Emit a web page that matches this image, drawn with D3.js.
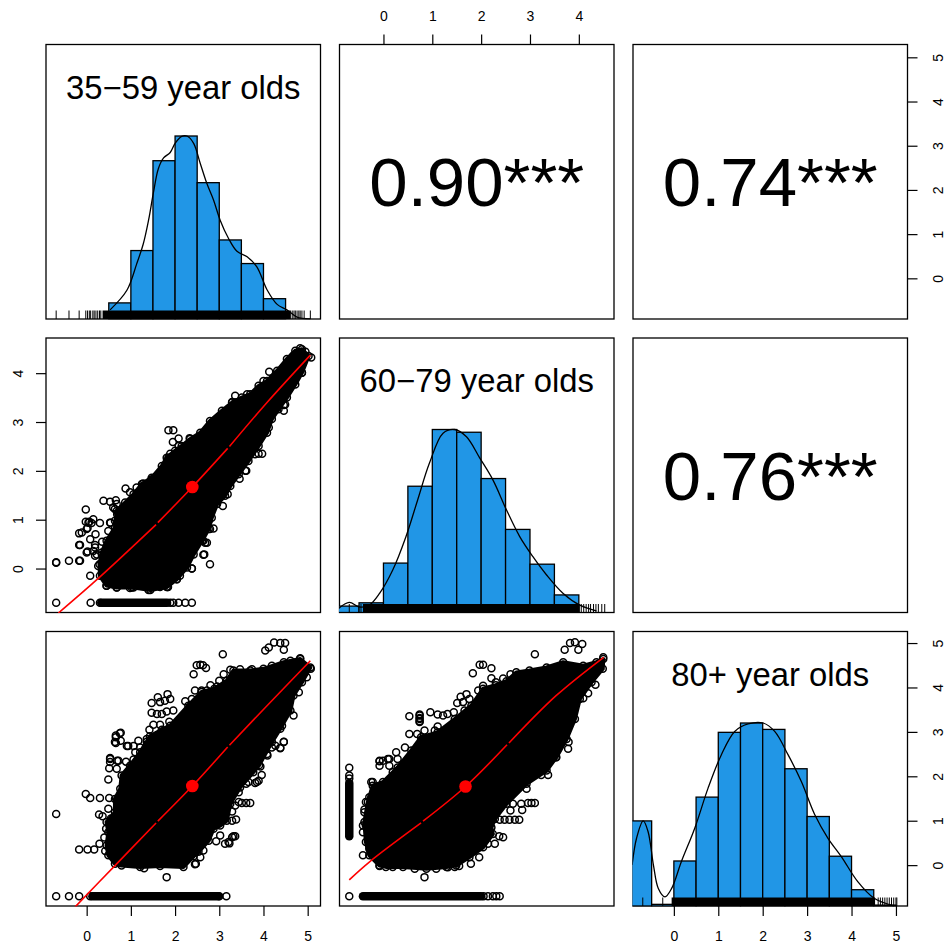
<!DOCTYPE html>
<html>
<head>
<meta charset="utf-8">
<script src="https://d3js.org/d3.v7.min.js"></script>
<style>
  html, body { margin: 0; padding: 0; background: #fff; }
  text { font-family: "Liberation Sans", Arial, sans-serif; fill: #000; }
</style>
</head>
<body>
<script>
// age groups
var labels = ["35\u221259 year olds", "60\u221279 year olds", "80+ year olds"];
var corrLabels = ["0.90***", "0.74***", "0.76***"];
var ticks = [[0,1,2,3,4,5], [0,1,2,3,4], [0,1,2,3,4,5]];

// histogram bars (left break of each 0.5 wide bar, height relative to tallest)
var histBreaks1 = [0.5,1,1.5,2,2.5,3,3.5,4];
var histHeights1 = [0.088,0.374,0.865,1,0.745,0.432,0.303,0.111];
var histBreaks2 = [-1,-0.5,0,0.5,1,1.5,2,2.5,3,3.5];
var histHeights2 = [0.035,0.053,0.27,0.69,1,0.985,0.732,0.454,0.264,0.096];
var histBreaks3 = [-1,-0.5,0,0.5,1,1.5,2,2.5,3,3.5,4,4.5];
var histHeights3 = [0.465,0.009,0.246,0.595,0.949,1,0.965,0.75,0.489,0.272,0.089,0.005];

// density curves, same relative height
var dens1 = [[0.53,0.05],[0.91,0.157],[1.13,0.3],[1.28,0.41],[1.4,0.54],[1.51,0.69],[1.62,0.82],[1.74,0.88],[1.89,0.91],[2.0,0.96],[2.15,0.998],[2.27,1],[2.42,0.96],[2.57,0.85],[2.72,0.74],[2.87,0.65],[3.02,0.54],[3.21,0.44],[3.4,0.37],[3.63,0.34],[3.85,0.285],[4.08,0.16],[4.31,0.08],[4.53,0.05],[4.76,0.01],[5.06,0]];
var dens2 = [[-0.92,0.022],[-0.7,0.055],[-0.49,0.03],[-0.29,0.04],[-0.08,0.104],[0.19,0.232],[0.46,0.414],[0.7,0.615],[0.94,0.815],[1.22,0.98],[1.46,1],[1.7,0.96],[1.97,0.845],[2.24,0.725],[2.52,0.56],[2.79,0.415],[3.06,0.305],[3.34,0.205],[3.68,0.104],[4.02,0.04],[4.36,0.009]];
var dens3 = [[-0.94,0.224],[-0.84,0.37],[-0.69,0.465],[-0.58,0.406],[-0.46,0.224],[-0.35,0.096],[-0.2,0.05],[-0.05,0.096],[0.17,0.243],[0.47,0.425],[0.77,0.644],[1.07,0.827],[1.37,0.954],[1.67,0.995],[2.01,1],[2.27,0.954],[2.57,0.827],[2.87,0.68],[3.17,0.5],[3.47,0.37],[3.77,0.27],[4.14,0.133],[4.51,0.042],[4.96,0]];

// rug: sparse ticks read one by one, plus the solid stretch
var rugTicks1 = [-0.69,-0.4,-0.17,-0.02,0.02,0.06,0.09,0.14,0.17,0.21,0.25,0.29,0.32,4.65,4.69,4.72,4.76,4.8,4.83,4.87,4.92,5.06];
var rugSolid1 = [0.36,4.62];
var rugTicks2 = [-0.7,-0.46,4.05,4.1,4.15,4.2,4.24,4.3,4.35,4.4,4.47,4.53];
var rugSolid2 = [-0.42,4.02];
var rugTicks3 = [-0.7,-0.25,4.6,4.65,4.7,4.75,4.8,4.85,4.9,4.95,5.0,5.02];
var rugSolid3 = [-0.05,4.53];

// scatter 60-79 against 35-59: solid overplotted core outline, then loose points
var outline21 = [[0.3,-0.15],[0.29,0.09],[0.34,0.33],[0.45,0.57],[0.64,0.84],[0.68,1.18],[0.87,1.35],[1.06,1.52],[1.25,1.73],[1.47,1.86],[1.7,2.1],[1.81,2.27],[2,2.41],[2.15,2.51],[2.34,2.65],[2.57,2.78],[2.79,3.02],[3.06,3.23],[3.29,3.4],[3.51,3.5],[3.7,3.57],[3.89,3.74],[4.08,3.84],[4.31,4.05],[4.53,4.29],[4.72,4.46],[4.87,4.49],[5.02,4.35],[4.87,4.01],[4.72,3.77],[4.53,3.5],[4.34,3.26],[4.19,3.06],[4.08,2.78],[3.89,2.51],[3.66,2.2],[3.44,1.93],[3.25,1.69],[3.13,1.49],[2.95,1.32],[2.83,1.04],[2.76,0.81],[2.61,0.57],[2.42,0.29],[2.27,0.02],[2.04,-0.22],[1.81,-0.38],[1.44,-0.44],[1.06,-0.39],[0.68,-0.39],[0.45,-0.35]];
var loose21 = [[-0.69,0.12],[-0.69,0.13],[-0.4,0.16],[-0.17,0.16],[0.08,-0.15],[-0.17,0.48],[-0.17,0.72],[-0.02,1.21],[0.02,0.83],[0.15,1.01],[0.3,0.93],[0.54,0.94],[0.49,0.77],[0.08,0.6],[0.2,0.7],[0.02,0.35],[0.19,0.43],[0.23,0.29],[0.38,1.39],[0.53,1.37],[0.66,1.4],[0.88,1.64],[1.85,2.83],[1.96,2.83],[1.95,2.59],[2.08,2.66],[2.33,2.67],[4.13,4.03],[2.64,0.28],[2.79,0.09],[3.08,1.28],[3.46,1.84],[3.97,2.35],[3.59,2],[2.87,0.82],[2.72,0.53],[3.19,1.52],[3.36,3.4],[4.46,3.35],[-0.02,0.96],[0.06,0.96],
  [3.36,3.54],[3.63,3.57],[3.29,3.41],[4,3.84],[4.68,4.36],[4.83,4.51],[4.95,4.44],[5.08,4.32],[4.87,4.01],[4.49,3.36],[4.46,3.23],[1.85,2.27],[2.08,2.51],[1.89,2.35],[1.28,1.74],[1.13,1.66],[1.47,1.83],[0.98,1.56],[0.68,1.32],[0.64,1.22],[0.69,1.11],[0.64,0.98],[0.53,0.94],
  [3.81,2.34],[3.89,2.35],[3.61,2],[4.12,2.89],[2.79,0.81],[2.64,0.57],[2.57,0.6],[2.38,0],[2.04,-0.22],[1.84,-0.38],[1.66,-0.38],[1.4,-0.44],[1.02,-0.39],
  [0.04,0.94],[0.11,0.93],[0,0.81],[-0.11,0.74],[0.19,0.48],[-0.15,0.48],[0,0.33],[0.15,0.36],[0.19,0.26],[0.26,0.05],[-0.15,0.16],[0.45,-0.35],[2.76,0.98],[2.68,0.53],[2.66,0.29],[2.38,0],[2.11,-0.15],[1.83,-0.38],[0.68,-0.39],[0.98,-0.4],[0.6,1.25],[0.72,0.62],[0.35,0.55],[0.42,0.2]];
var strip21 = [-0.69,0.09,0.3,1.89,1.96,2.08,2.23,2.38];
var runs21 = [[0.33,-0.7,1.82,-0.7]];
var smooth21 = [[[-0.64,-0.91],[0.3,-0.17],[1.57,0.9]],[[1.61,0.94],[2.39,1.67],[3.19,2.46]],[[3.23,2.5],[4.08,3.4],[5.06,4.37]]];
var mean21 = [2.39,1.67];

// scatter 80+ against 35-59
var outline31 = [[0.64,0.03],[0.49,0.22],[0.45,0.44],[0.49,0.74],[0.45,0.97],[0.64,1.19],[0.64,1.49],[0.76,1.72],[0.79,2.02],[0.98,2.24],[1.21,2.54],[1.36,2.78],[1.43,2.9],[1.7,3.05],[1.89,3.14],[2.3,3.59],[2.6,3.9],[2.89,3.97],[3.17,4.15],[3.32,4.38],[3.7,4.38],[4,4.42],[4.46,4.57],[4.83,4.64],[5.06,4.45],[4.87,4.12],[4.68,3.82],[4.61,3.48],[4.38,3.07],[4.19,2.77],[3.9,2.25],[3.77,2.09],[3.47,1.75],[3.25,1.38],[3.17,1],[3.02,0.89],[2.87,0.82],[2.76,0.55],[2.53,0.3],[2.42,0.2],[2.19,-0.04],[1.66,-0.02],[1.21,-0.04],[0.79,-0.01]];
var loose31 = [[-0.69,1.15],[-0.02,1.6],[0.08,1.51],[0.3,1.51],[0.51,1.51],[0.28,1.14],[0.49,1.27],[-0.17,0.35],[0.02,0.35],[0.17,0.35],[0.29,0.48],[0.44,0.82],[0.53,2.39],[0.69,2.35],[0.51,2.18],[0.68,2.17],[0.49,1.93],[0.66,2.92],[0.77,2.98],[0.64,2.77],[0.91,2.68],[1.06,2.68],[3.08,4.75],[3.25,4.4],[4.04,4.83],[4.12,4.9],[4.24,5.01],[4.38,5],[4.49,5],[4.46,4.85],[4.46,2.78],[4.38,2.63],[3.85,1.87],[3.32,0.65],[3.21,0.52],[3.02,0.67],[2.57,0.18],[2.47,0.03],[1.81,-0.27],[1.3,-0.07],[4.83,4.66],
  [2.42,4.3],[2.49,4.5],[2.57,4.51],[2.63,4.5],[2.7,4.44],[2.45,3.93],[2.6,3.93],[2.72,3.93],[2.23,3.69],[2.38,3.74],[1.47,3.65],[1.61,3.78],[1.66,3.67],[1.83,3.85],[1.89,3.74],[1.77,3.7],[1.47,3.43],[1.59,3.4],[1.7,3.4],[1.81,3.46],[1.96,3.48],[1.87,3.23],[1.51,3.16],[1.42,3.05],[1.66,3.16],[0.75,2.97],[0.66,2.88],[0.77,2.8],[0.66,2.75],[0.94,2.68],[1.17,2.8],[1.21,2.65],[1.1,2.54],[1.36,2.84],[0.53,2.41],[0.53,2.32],[0.72,2.35],[0.89,2.33],[1.06,2.38],
  [4.46,2.77],[4.38,2.64],[4.27,2.69],[4.09,2.47],[3.93,2.22],[3.96,2.03],[3.61,1.83],[3.81,1.85],[3.89,1.9],[3.44,1.64],[3.7,1.4],[3.61,1.4],[3.51,1.4],[3.36,1.34],[3.44,1.42],[3.29,1.21],[3.38,1.03],[3.29,1],[3.36,0.65],[3.29,0.63],[3.23,0.49],[3.13,0.48],[2.93,0.54],[2.64,0.33],[2.45,0.02],
  [4.68,3.37],[4.49,3.4],[4.42,3.14],[4.19,2.65],[4.08,2.5],[3.66,1.87],[3.47,4.41],[3.74,4.41],[4.19,4.49],[4.61,4.6],[4.8,4.53],[5.07,4.42],[4.98,4.23],[4.8,3.89],[0.4,0.62],[0.36,1.1],[0.55,1.05],[0.42,0.32],[2.8,4.05],[3.0,4.15],[3.1,4.3],[2.95,4.02]];
var strip31 = [-0.69,-0.4,-0.17,0.08,3.0,3.16];
var runs31 = [[0.13,-0.7,2.98,-0.7]];
var smooth31 = [[[-0.26,-0.94],[0.64,-0.01],[1.57,0.95]],[[1.61,0.99],[2.39,1.78],[3.19,2.66]],[[3.23,2.7],[4.08,3.59],[5.06,4.6]]];
var mean31 = [2.39,1.78];

// scatter 80+ against 60-79
var outline32 = [[-0.08,-0.01],[-0.29,0.22],[-0.36,0.52],[-0.39,0.97],[-0.32,1.42],[-0.22,1.79],[-0.01,1.87],[0.19,2.09],[0.29,2.2],[0.57,2.58],[0.77,2.88],[1.11,2.99],[1.46,3.29],[1.8,3.59],[2.04,3.97],[2.3,4.05],[2.52,4.14],[2.72,4.34],[2.99,4.38],[3.34,4.45],[3.68,4.57],[4.09,4.49],[4.36,4.57],[4.5,4.64],[4.49,4.42],[4.26,4.12],[4.02,3.74],[3.92,3.29],[3.75,2.84],[3.54,2.43],[3.34,2.13],[2.93,1.83],[2.52,1.38],[2.28,1.04],[2.21,0.85],[2.24,0.7],[2.04,0.4],[1.76,0.18],[1.49,-0.01],[1.29,-0.04],[0.88,-0.08],[0.4,-0.04],[0.05,-0.04]];
var loose32 = [[-0.42,0.22],[0.53,3.35],[0.74,3.37],[0.74,3.29],[0.74,3.22],[2.21,4.43],[2.21,4.21],[3.1,4.75],[3.71,4.85],[3.82,5],[3.92,5.02],[4.07,4.98],[3.99,4.85],[4.34,4.06],[4.19,3.87],[4.09,3.76],[0.84,-0.27],[-0.08,2.35],[0.12,2.39],[0.26,2.54],[0.53,2.95],[-0.22,1.87],[-0.39,1.19],[-0.25,1.53],[-0.42,0.89],[4.5,4.68],
  [1.97,4.51],[2.04,4.51],[1.83,4.32],[2.04,4.04],[1.94,3.93],[1.7,3.85],[1.58,3.79],[1.51,3.65],[1.76,3.74],[1.63,3.67],[0.74,3.39],[0.74,3.31],[0.74,3.24],[0.96,3.44],[1.11,3.39],[1.22,3.37],[1.31,3.4],[1.44,3.44],[1.66,3.48],[1.8,3.52],[0.69,2.95],[0.84,3.03],[1.11,3.12],[1.05,3.03],[0.44,2.65],[0.09,2.39],[-0.08,2.34],[-0.01,2.35],[0.29,2.39],[0.12,2.24],[-0.08,2.24],
  [3.79,2.77],[3.78,2.62],[3.53,2.43],[3.4,2.35],[3.37,2.03],[3.23,2.03],[3.1,1.4],[3.03,1.4],[2.96,1.4],[2.82,1.38],[2.84,1.24],[2.65,1.38],[2.6,1.23],[2.93,1.72],[2.78,1.02],[2.69,1.02],[2.58,1.02],[2.48,1.02],[2.38,1.02],[2.45,0.63],[2.37,0.65],[2.28,0.48],[2.14,0.48],[1.96,0.18],[1.79,0.03],[1.55,-0.02],[1.46,-0.04],
  [-0.36,1.42],[-0.39,1.25],[-0.36,0.89],[-0.42,0.74],[-0.29,0.37],[-0.08,-0.02],[0.19,-0.04],[0.64,-0.08],[1.08,-0.08],[1.32,-0.05],[-0.29,1.53],[-0.22,1.49],[-0.25,1.87],[2.45,4.2],[2.6,4.3],[2.3,4.12]];
var strip32 = [-0.7,2.05,2.14,2.24,2.31,2.38];
var stripCol32 = [2.19,2.02,1.95];
var runs32 = [[-0.42,-0.7,2.0,-0.7],[-0.7,0.65,-0.7,1.85]];
var smooth32 = [[[-0.7,-0.33],[-0.29,0.07],[0.77,0.95]],[[0.81,0.99],[1.68,1.77],[2.53,2.71]],[[2.57,2.75],[3.54,3.82],[4.51,4.68]]];
var mean32 = [1.68,1.77];

// axis limits of the three variables
var limits = [[-0.92,5.29],[-0.9,4.72],[-0.92,5.26]];

var size = 274.5;
var left = [46,339.5,633];
var top_ = [44.5,338,631.5];
var barColor = "#2196e6";
var lineW = 1.3;

var svg = d3.select("body").append("svg")
  .attr("width",944).attr("height",947)
  .style("display","block");

var xs = limits.map(function(d,i){ return d3.scaleLinear().domain(d).range([left[i],left[i]+size]); });
var ys = limits.map(function(d,i){ return d3.scaleLinear().domain(d).range([top_[i]+size,top_[i]]); });

// clip paths
var defs = svg.append("defs");
for (var r=0;r<3;r++) for (var c=0;c<3;c++) {
  defs.append("clipPath").attr("id","clip"+r+c).append("rect")
    .attr("x",left[c]-0.5).attr("y",top_[r]-0.5).attr("width",size+1).attr("height",size+1);
}

// panel boxes
for (var r=0;r<3;r++) for (var c=0;c<3;c++) {
  svg.append("rect").attr("x",left[c]).attr("y",top_[r]).attr("width",size).attr("height",size)
    .attr("fill","none").attr("stroke","#000").attr("stroke-width",lineW);
}

function scatter(r,c,outline,loose,strip,runs,smooth,mean){
  var x=xs[c], y=ys[r];
  var xy=d3.line().x(function(d){return x(d[0]);}).y(function(d){return y(d[1]);});
  var g=svg.append("g").attr("clip-path","url(#clip"+r+c+")");
  // stroke pushes the core out to where the rings start to merge
  g.append("path").attr("d",xy(outline)+"Z").attr("fill","#000")
    .attr("stroke","#000").attr("stroke-width",4).attr("stroke-linejoin","round");
  g.selectAll("line.run").data(runs).enter().append("line").attr("class","run")
    .attr("x1",function(d){return x(d[0]);}).attr("y1",function(d){return y(d[1]);})
    .attr("x2",function(d){return x(d[2]);}).attr("y2",function(d){return y(d[3]);})
    .attr("stroke","#000").attr("stroke-width",8.5).attr("stroke-linecap","round");
  var pts=outline.concat(loose).concat(strip);
  g.selectAll("circle.pt").data(pts).enter().append("circle").attr("class","pt")
    .attr("cx",function(d){return x(d[0]);}).attr("cy",function(d){return y(d[1]);})
    .attr("r",3.5).attr("fill","none").attr("stroke","#000").attr("stroke-width",1.5);
  var smoothLine=xy.curve(d3.curveCatmullRom);
  smooth.forEach(function(piece){
    g.append("path").datum(piece).attr("d",smoothLine)
      .attr("fill","none").attr("stroke","#f00").attr("stroke-width",1.6);
  });
  g.append("circle").attr("cx",x(mean[0])).attr("cy",y(mean[1])).attr("r",6.3).attr("fill","#f00");
}

function asRow(xv,yv){ return xv.map(function(d){ return [d,yv]; }); }
function asCol(xv,yv){ return yv.map(function(d){ return [xv,d]; }); }

scatter(1,0,outline21,loose21,asRow(strip21,-0.7),runs21,smooth21,mean21);
scatter(2,0,outline31,loose31,asRow(strip31,-0.7),runs31,smooth31,mean31);
scatter(2,1,outline32,loose32,asRow(strip32,-0.7).concat(asCol(-0.7,stripCol32)),runs32,smooth32,mean32);

function diag(i,breaks,heights,dens,rug,solid){
  var x=xs[i];
  var y=d3.scaleLinear().domain([0,1.5]).range([top_[i]+size,top_[i]]);
  var g=svg.append("g").attr("clip-path","url(#clip"+i+i+")");
  g.selectAll("rect").data(breaks).enter().append("rect")
    .attr("x",function(d){return x(d);}).attr("width",function(d){return x(d+0.5)-x(d);})
    .attr("y",function(d,k){return y(heights[k]);}).attr("height",function(d,k){return y(0)-y(heights[k]);})
    .attr("fill",barColor).attr("stroke","#000").attr("stroke-width",lineW);
  g.append("path").datum(dens).attr("d",d3.line().x(function(d){return x(d[0]);}).y(function(d){return y(d[1]);}).curve(d3.curveCatmullRom))
    .attr("fill","none").attr("stroke","#000").attr("stroke-width",lineW);
  var tick=y(0)-8.5;
  g.selectAll("line.rug").data(rug).enter().append("line").attr("class","rug")
    .attr("x1",function(d){return x(d);}).attr("x2",function(d){return x(d);})
    .attr("y1",y(0)).attr("y2",tick).attr("stroke","#000").attr("stroke-width",1);
  g.append("rect").attr("x",x(solid[0])).attr("width",x(solid[1])-x(solid[0]))
    .attr("y",tick).attr("height",8.5).attr("fill","#000");
}
diag(0,histBreaks1,histHeights1,dens1,rugTicks1,rugSolid1);
diag(1,histBreaks2,histHeights2,dens2,rugTicks2,rugSolid2);
diag(2,histBreaks3,histHeights3,dens3,rugTicks3,rugSolid3);

// variable names on the diagonal
labels.forEach(function(d,i){
  svg.append("text").attr("x",left[i]+size/2).attr("y",top_[i]+54)
    .attr("text-anchor","middle").style("font-size","32.8px").text(d);
});
// correlations, upper triangle
[[0,1,0],[0,2,1],[1,2,2]].forEach(function(d){
  svg.append("text").attr("x",left[d[1]]+size/2).attr("y",top_[d[0]]+size/2+24.5)
    .attr("text-anchor","middle").style("font-size","69px").text(corrLabels[d[2]]);
});

function styleAxis(g){
  g.select(".domain").remove();
  g.selectAll("line").attr("stroke","#000").attr("stroke-width",1.2);
  g.selectAll("text").style("font-size","14px").style("font-family",'"Liberation Sans", Arial, sans-serif');
}
// bottom axes
[0,2].forEach(function(i){
  var g=svg.append("g").attr("transform","translate(0,"+(top_[2]+size)+")")
    .call(d3.axisBottom(xs[i]).tickValues(ticks[i]).tickFormat(d3.format("d")).tickSize(10).tickPadding(15));
  styleAxis(g);
});
// top axis
var gt=svg.append("g").attr("transform","translate(0,"+top_[0]+")")
  .call(d3.axisTop(xs[1]).tickValues(ticks[1]).tickFormat(d3.format("d")).tickSize(10).tickPadding(13.5));
styleAxis(gt);
// left axis
var gl=svg.append("g").attr("transform","translate("+left[0]+",0)")
  .call(d3.axisLeft(ys[1]).tickValues(ticks[1]).tickFormat(d3.format("d")).tickSize(10));
styleAxis(gl);
gl.selectAll("text").attr("x",0).attr("dy",0).attr("text-anchor","middle")
  .attr("transform","translate(-23.3,0) rotate(-90)");
// right axes
[0,2].forEach(function(i){
  var g=svg.append("g").attr("transform","translate("+(left[2]+size)+",0)")
    .call(d3.axisRight(ys[i]).tickValues(ticks[i]).tickFormat(d3.format("d")).tickSize(10));
  styleAxis(g);
  g.selectAll("text").attr("x",0).attr("dy",0).attr("text-anchor","middle")
    .attr("transform","translate(35,0) rotate(-90)");
});
</script>
</body>
</html>
